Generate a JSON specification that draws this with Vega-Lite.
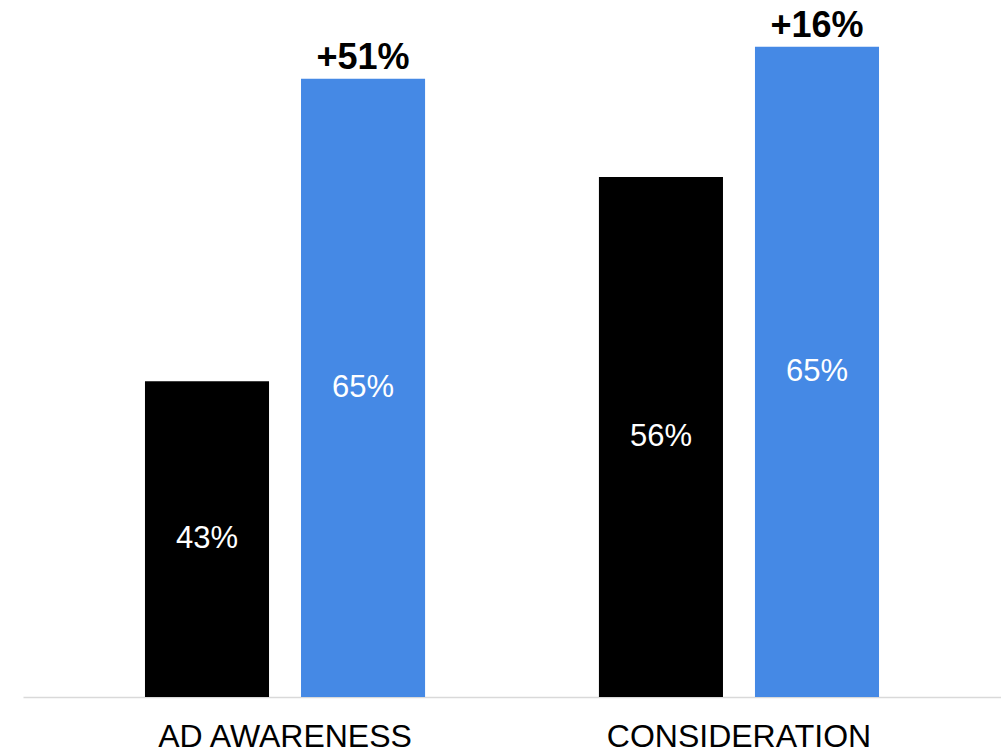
{
  "$schema": "https://vega.github.io/schema/vega-lite/v6.json",
  "width": 978,
  "height": 697,
  "autosize": {"type": "none"},
  "padding": {"left": 23, "top": 0, "right": 0, "bottom": 54},
  "background": "white",
  "config": {"view": {"stroke": null}, "font": "Liberation Sans"},
  "data": {"values": [
    {"metric": "AD AWARENESS", "series": "Before", "value": 45.3, "label": "43%", "lift": ""},
    {"metric": "AD AWARENESS", "series": "After", "value": 88.7, "label": "65%", "lift": "+51%"},
    {"metric": "CONSIDERATION", "series": "Before", "value": 74.6, "label": "56%", "lift": ""},
    {"metric": "CONSIDERATION", "series": "After", "value": 93.3, "label": "65%", "lift": "+16%"}
  ]},
  "encoding": {
    "x": {"field": "metric", "type": "nominal", "sort": null,
      "scale": {"paddingInner": 0.383, "paddingOuter": 0.2687},
      "axis": {"title": null, "ticks": false, "labelAngle": 0, "labelFontSize": 32, "labelColor": "#000000", "labelLimit": 0,
        "labelFont": "Liberation Sans", "labelPadding": 24, "domainColor": "#d9d9d9", "domainWidth": 1.5}},
    "xOffset": {"field": "series", "type": "nominal", "sort": ["Before", "After"],
      "scale": {"paddingInner": 0.205, "paddingOuter": 0}},
    "y": {"field": "value", "type": "quantitative", "scale": {"domain": [0, 100]}, "axis": null}
  },
  "layer": [
    {"mark": {"type": "bar"},
     "encoding": {"color": {"field": "series", "type": "nominal", "sort": ["Before", "After"],
       "scale": {"domain": ["Before", "After"], "range": ["#000000", "#4589e5"]}, "legend": null}}},
    {"transform": [{"calculate": "datum.value / 2", "as": "mid"}],
     "mark": {"type": "text", "color": "white", "fontSize": 31, "baseline": "middle", "font": "Liberation Sans"},
     "encoding": {"y": {"field": "mid", "type": "quantitative"}, "text": {"field": "label"}}},
    {"transform": [{"filter": "datum.lift != ''"}],
     "mark": {"type": "text", "color": "black", "fontSize": 36, "fontWeight": "bold", "baseline": "alphabetic", "dy": -10, "font": "Liberation Sans"},
     "encoding": {"text": {"field": "lift"}}}
  ]
}
